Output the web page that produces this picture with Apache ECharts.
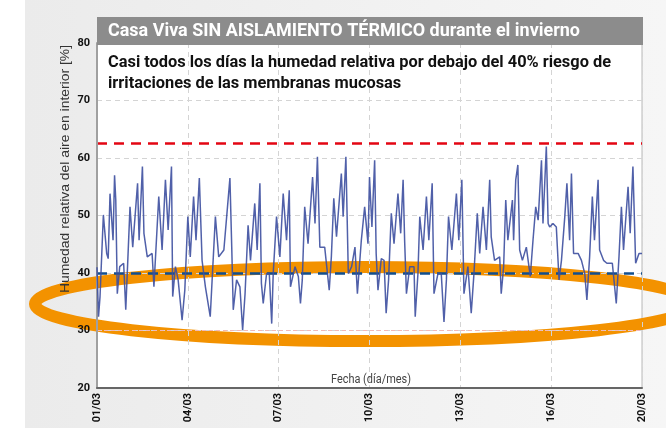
<!DOCTYPE html>
<html>
<head>
<meta charset="utf-8">
<script src="https://cdn.jsdelivr.net/npm/echarts@6/dist/echarts.min.js"></script>
<style>
html,body{margin:0;padding:0;background:#fff;}
#chart{width:666px;height:428px;}
</style>
</head>
<body>
<div id="chart"></div>
<script>
// ---- data ----
var titleText = 'Casa Viva SIN AISLAMIENTO TÉRMICO durante el invierno';
var subtitleLines = ['Casi todos los días la humedad relativa por debajo del 40% riesgo de', 'irritaciones de las membranas mucosas'];
var yAxisTitle = 'Humedad relativa del aire en interior [%]';
var xAxisTitle = 'Fecha (día/mes)';
var dateTickLabels = ['01/03', '04/03', '07/03', '10/03', '13/03', '16/03', '20/03'];
var yTicks = [20, 30, 40, 50, 60, 70, 80];
var upperLimit = 62.6;
var lowerLimit = 40;
var faintLimit = 30;

// days elapsed since 01/03 00:00
var dayOffsets = [
  0.00,0.05,0.10,0.21,0.32,0.37,0.43,0.53,0.58,0.62,0.67,0.75,0.88,0.95,
  1.09,1.18,1.34,1.39,1.50,1.55,1.66,1.82,1.88,
  2.04,2.15,2.26,2.35,2.46,2.50,2.59,2.68,2.81,2.90,
  3.00,3.08,3.19,3.27,3.38,3.47,3.58,3.74,3.91,
  4.02,4.19,4.39,4.45,4.50,4.61,4.72,4.81,4.89,4.99,
  5.07,5.21,5.29,5.38,5.43,5.49,5.60,5.69,5.77,5.82,5.93,
  6.04,6.15,6.26,6.35,6.39,6.54,6.65,6.72,6.78,6.86,6.97,
  7.12,7.20,7.28,7.36,7.52,7.67,7.74,7.82,7.91,
  8.07,8.13,8.22,8.30,8.41,8.52,8.60,8.73,8.84,8.95,
  9.00,9.08,9.17,9.22,9.28,9.39,9.48,9.55,9.63,9.72,9.81,9.94,
  10.03,10.11,10.16,10.22,10.33,10.47,10.51,10.60,10.66,10.77,10.88,10.96,
  11.07,11.13,11.26,11.37,11.46,11.54,11.61,11.72,11.87,11.95,
  12.05,12.12,12.25,12.36,12.45,12.56,12.64,12.75,12.86,12.97,
  13.02,13.13,13.30,13.35,13.43,13.50,13.57,13.72,13.76,13.83,13.90,13.96,
  14.05,14.18,14.31,14.40,14.49,14.57,14.68,14.73,14.84,14.90,14.95,
  15.06,15.17,15.26,15.34,15.45,15.52,15.61,15.67,15.74,15.89,
  16.00,16.11,16.18,16.27,16.36,16.43,16.55,16.60,16.73,16.84,
  17.02,17.15,17.24,17.32,17.39,17.54,17.61,17.70,17.79,17.90,18.00
];
var humidity = [
  41.0,32.4,35.9,50.1,43.4,42.5,53.8,45.7,57.0,52.7,36.4,41.1,41.7,33.6,
  51.5,44.5,55.6,45.7,58.5,46.9,42.8,43.4,37.6,
  53.3,44.0,56.2,47.5,58.5,35.9,41.1,38.8,31.8,37.0,
  49.8,42.8,53.3,45.7,56.5,42.2,37.6,32.4,49.8,
  42.8,44.0,56.5,44.5,33.6,38.8,37.6,30.1,36.4,48.3,
  42.2,52.1,44.0,55.6,38.2,34.7,39.9,39.9,31.2,39.9,49.8,
  42.8,53.8,45.7,54.4,37.6,41.1,39.4,34.7,38.8,51.5,45.1,
  56.7,48.6,60.2,44.5,44.5,37.0,42.8,53.0,46.3,
  57.3,49.8,60.2,39.9,41.1,44.5,36.4,45.7,51.5,45.1,
  56.7,48.0,59.6,43.4,37.0,42.5,42.2,33.0,38.8,50.4,45.1,53.8,
  46.9,56.2,45.7,36.4,41.1,41.1,32.4,39.9,49.8,44.0,53.3,45.7,
  55.6,36.4,39.9,39.9,31.5,38.8,49.8,44.0,53.8,45.7,
  56.2,36.4,41.1,33.0,39.9,50.4,43.4,51.5,44.0,56.2,
  46.3,42.2,42.8,36.4,41.1,52.7,45.7,52.7,45.7,56.2,58.8,44.0,
  42.2,44.5,39.4,45.7,51.5,49.2,59.6,48.6,62.0,48.6,48.0,
  48.6,48.0,38.8,42.2,49.8,55.6,45.7,57.3,43.4,43.4,
  42.2,39.9,35.3,42.8,53.3,45.7,56.2,44.0,42.2,41.7,
  41.7,34.7,42.8,51.5,44.0,55.0,46.9,58.5,41.7,43.4,43.4
];

var seriesData = dayOffsets.map(function (d, i) { return [d, humidity[i]]; });

var sans = "Roboto, 'Liberation Sans', sans-serif";
var measureCtx = document.createElement('canvas').getContext('2d');
function fitScale(text, font, target) {
  measureCtx.font = font;
  return target / measureCtx.measureText(text).width;
}
var titleFont = 'bold 18px ' + sans;
var subFont = 'bold 16px ' + sans;
var yTitleFont = '13px "Liberation Sans", Arial, sans-serif';
var xTitleFont = '12px ' + sans;

var chart = echarts.init(document.getElementById('chart'), null, {renderer: 'canvas'});
chart.setOption({
  animation: false,
  backgroundColor: '#ffffff',
  grid: {
    left: 97, right: 24, top: 43, bottom: 40,
    show: true, backgroundColor: '#ffffff', borderColor: '#b8b8b8', borderWidth: 1
  },
  xAxis: {
    type: 'value', min: 0, max: 18, interval: 3, z: 5,
    axisLine: {show: true, onZero: false, lineStyle: {color: '#666', width: 2}},
    axisTick: {show: false},
    splitLine: {show: true, lineStyle: {color: '#d4d4d4', type: [5, 4], width: 1}},
    axisLabel: {
      rotate: 90, margin: 5, fontFamily: sans, fontWeight: 'bold', fontSize: 11, color: '#111',
      formatter: function (v) { return dateTickLabels[Math.round(v / 3)] || ''; }
    }
  },
  yAxis: {
    type: 'value', min: yTicks[0], max: yTicks[yTicks.length - 1], interval: 10, z: 5,
    axisLine: {show: true, lineStyle: {color: '#a0a0a0', width: 2}},
    axisTick: {show: false},
    splitLine: {show: true, lineStyle: {color: '#d4d4d4', type: [5, 4], width: 1}},
    axisLabel: {margin: 7, fontFamily: sans, fontWeight: 'bold', fontSize: 11, color: '#111'}
  },
  series: [{
    type: 'line',
    data: seriesData,
    showSymbol: false,
    symbol: 'none',
    z: 6,
    lineStyle: {color: '#3d4fa0', width: 1.5, opacity: 0.9},
    markLine: {
      silent: true, symbol: 'none', label: {show: false},
      data: [
        {yAxis: upperLimit, lineStyle: {color: '#e30613', width: 2.5, type: [10, 7]}},
        {yAxis: lowerLimit, lineStyle: {color: '#124f8e', width: 2.5, type: [10, 7]}},
        {yAxis: faintLimit, lineStyle: {color: '#f2b8b8', width: 1, type: [4, 3]}}
      ]
    }
  }],
  graphic: [
    {type: 'rect', z: -10, silent: true, shape: {x: 25, y: 0, width: 641, height: 428},
     style: {fill: new echarts.graphic.LinearGradient(0, 0, 1, 0, [{offset: 0, color: '#ebebeb'}, {offset: 1, color: '#f6f6f6'}])}},
    {type: 'ellipse', z: 1, silent: true, shape: {cx: 365, cy: 304, rx: 330, ry: 37},
     style: {fill: 'transparent', stroke: '#f39200', lineWidth: 12}},
    {type: 'rect', z: 10, silent: true, shape: {x: 97, y: 17, width: 546, height: 28},
     style: {fill: '#8c8c8c'}},
    {type: 'text', z: 11, silent: true, x: 108, y: 31, scaleX: fitScale(titleText, titleFont, 472),
     style: {text: titleText, fill: '#ffffff', font: titleFont, textVerticalAlign: 'middle'}},
    {type: 'text', z: 11, silent: true, x: 108, y: 63, scaleX: fitScale(subtitleLines[0], subFont, 503),
     style: {text: subtitleLines[0], fill: '#111111', font: subFont, textVerticalAlign: 'middle'}},
    {type: 'text', z: 11, silent: true, x: 108, y: 84, scaleX: fitScale(subtitleLines[0], subFont, 503),
     style: {text: subtitleLines[1], fill: '#111111', font: subFont, textVerticalAlign: 'middle'}},
    {type: 'text', z: 11, silent: true, x: 371, y: 380, scaleX: fitScale(xAxisTitle, xTitleFont, 80),
     style: {text: xAxisTitle, fill: '#444', font: xTitleFont, textAlign: 'center', textVerticalAlign: 'middle'}},
    {type: 'text', z: 11, silent: true, x: 65, y: 169, rotation: Math.PI / 2, scaleX: fitScale(yAxisTitle, yTitleFont, 248),
     style: {text: yAxisTitle, fill: '#333', font: yTitleFont, textAlign: 'center', textVerticalAlign: 'middle'}}
  ]
});
</script>
</body>
</html>
